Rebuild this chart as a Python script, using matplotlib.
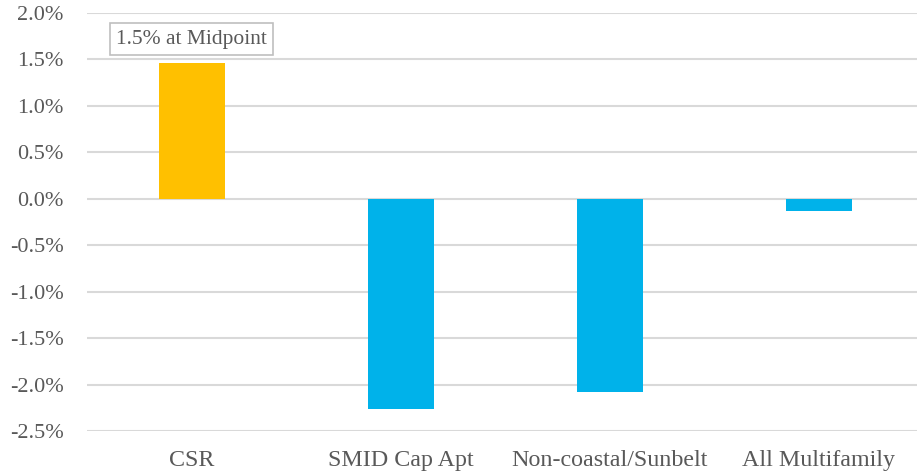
import matplotlib
matplotlib.use("Agg")
import matplotlib.pyplot as plt
from matplotlib.ticker import FuncFormatter, MultipleLocator

categories = ["CSR", "SMID Cap Apt", "Non-coastal/Sunbelt", "All Multifamily"]
values = [1.46, -2.26, -2.08, -0.13]
colors = ["#FFC000", "#00B2EA", "#00B2EA", "#00B2EA"]
note_text = "1.5% at Midpoint"
note_y = 1.72

plt.rcParams["font.family"] = ["Liberation Serif", "DejaVu Serif"]
text_color = "#595959"

fig = plt.figure(figsize=(9.17, 4.75), dpi=100)
ax = fig.add_axes([87 / 917, 44 / 475, 1 - 87 / 917, 418 / 475])

x = range(len(categories))
ax.bar(x, values, width=0.316, color=colors, zorder=3)

ax.set_xlim(-0.5, 3.47)
ax.set_ylim(-2.5, 2.0)
ax.yaxis.set_major_locator(MultipleLocator(0.5))
ax.yaxis.set_major_formatter(FuncFormatter(lambda v, _: f"{v:.1f}%"))
ax.grid(axis="y", color="#d9d9d9", linewidth=1.5, zorder=0)
ax.set_xticks(list(x))
ax.set_xticklabels(categories)

for s in ax.spines.values():
    s.set_visible(False)
ax.tick_params(axis="y", length=0, pad=17, labelsize=16, labelcolor=text_color)
ax.tick_params(axis="x", length=0, pad=14, labelsize=17.3, labelcolor=text_color)

ax.text(0, note_y, note_text, ha="center", va="center", fontsize=15.5,
        color=text_color, zorder=4,
        bbox=dict(boxstyle="square,pad=0.3", facecolor="white",
                  edgecolor="#bfbfbf", linewidth=1.2))

fig.savefig("out.png", dpi=100)
